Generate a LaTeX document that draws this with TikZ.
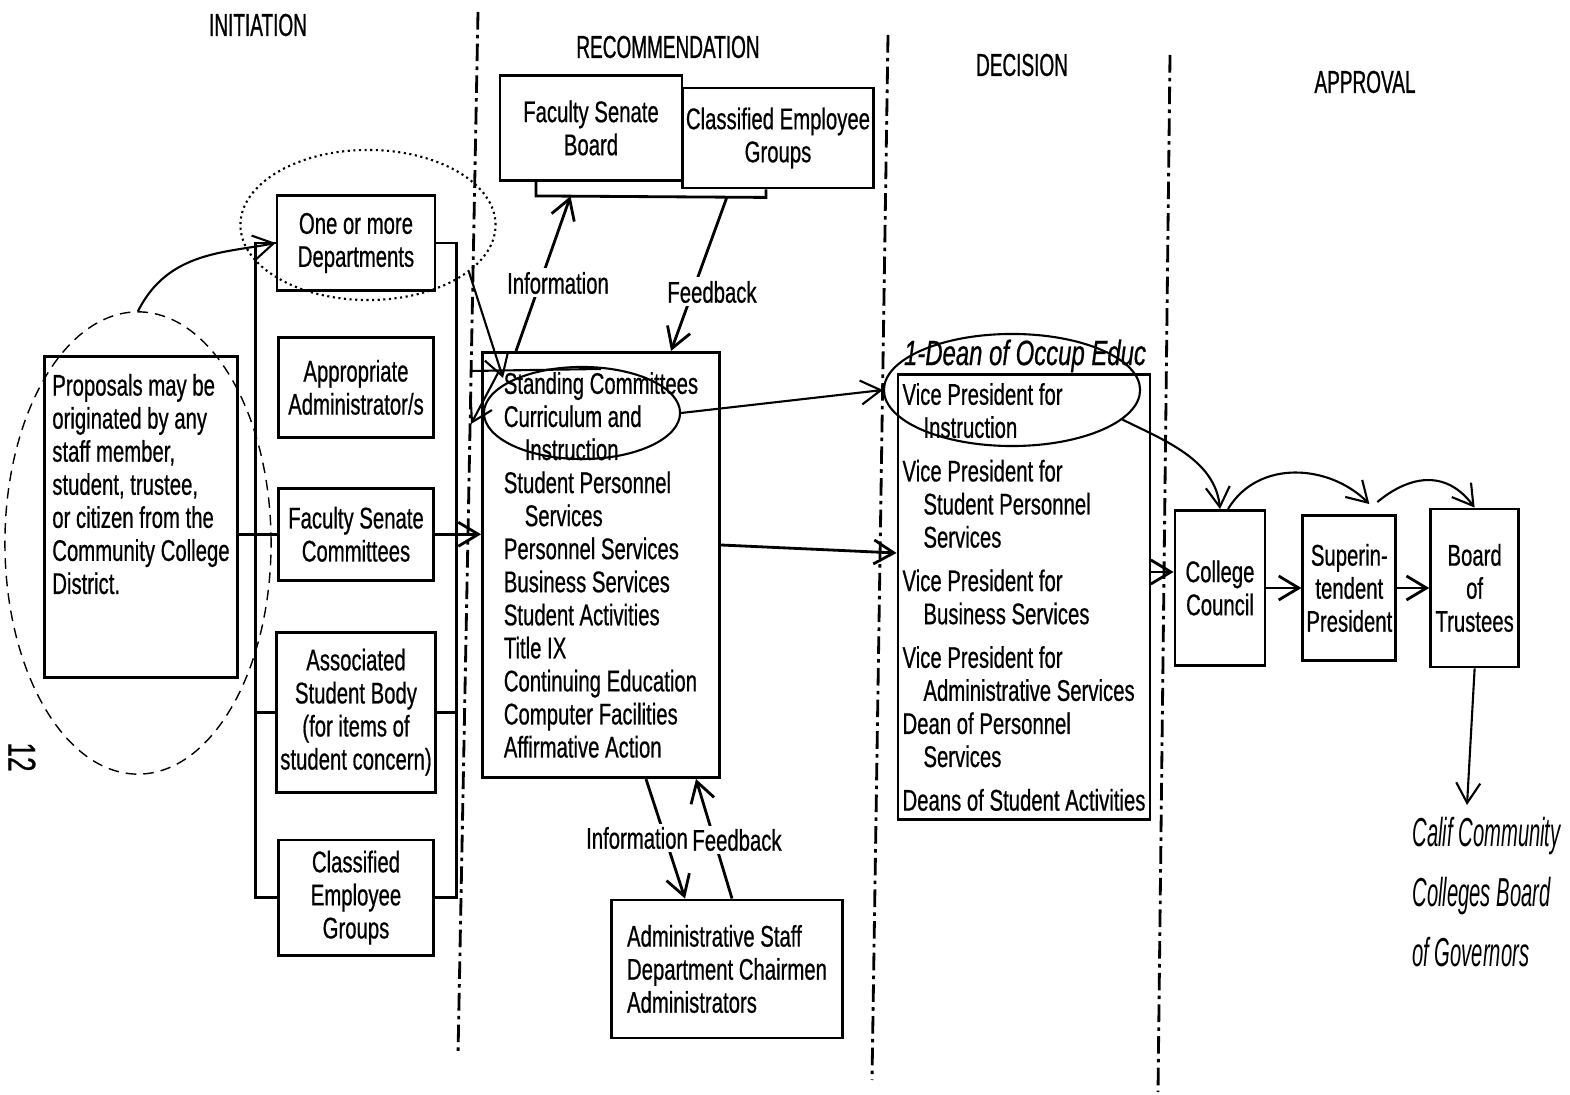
\documentclass[tikz,border=0pt]{standalone}
\usepackage{fontspec}
\setsansfont[FakeStretch=0.68, FakeBold=0.6]{Liberation Sans}
\newfontfamily\headfont[FakeStretch=0.6, FakeBold=0.8]{Liberation Sans}
\newfontfamily\handfont[FakeStretch=0.5]{Liberation Sans}
\usetikzlibrary{arrows.meta,positioning,shapes.geometric,calc}
\newcommand{\ind}{\hspace*{0.7em}}

\begin{document}
\begin{tikzpicture}[
  x=0.01cm, y=-0.01cm,
  font=\sffamily\fontsize{8.5}{9.4}\selectfont,
  box/.style={draw, thick, fill=white, align=center, inner sep=1pt},
  listbox/.style={box, align=left},
  arr/.style={-{Straight Barb[length=2mm,width=2.4mm]}, thick},
  harr/.style={-{Straight Barb[length=2mm,width=2.4mm]}, semithick},
  ring/.style={draw, ellipse, semithick, inner sep=0pt},
  phase/.style={font=\headfont\fontsize{9}{11}\selectfont},
  lbl/.style={fill=white, inner sep=1pt},
  divider/.style={thick, dash pattern=on 5pt off 1.5pt on 1pt off 1.5pt},
  hand/.style={font=\sffamily\itshape\fontsize{10}{12}\selectfont},
  govnote/.style={font=\handfont\itshape\fontsize{11.5}{17}\selectfont, align=left}
]
\useasboundingbox (0,0) rectangle (1570,1095);

% Phase headings
\node[phase] (hinit) at (258,25) {INITIATION};
\node[phase] (hrec) at (668,47) {RECOMMENDATION};
\node[phase] (hdec) at (1022,65) {DECISION};
\node[phase] (happ) at (1365,82) {APPROVAL};

% Dividers
\draw[divider] (478,12) -- (458,1055);
\draw[divider] (888,35) -- (872,1080);
\draw[divider] (1170,55) -- (1158,1092);

% Initiation
\node[listbox, minimum width=1.93cm, minimum height=3.21cm] (prop) at (141,517)
      {Proposals may be\\originated by any\\staff member,\\student, trustee,\\or citizen from the\\Community College\\District.\\~\\~};
\node[box, minimum width=1.58cm, minimum height=0.95cm] (dept) at (356,243) {One or more\\Departments};
\node[box, minimum width=1.55cm, minimum height=1.0cm, below=0.44cm of dept] (admin) {Appropriate\\Administrator/s};
\node[box, minimum width=1.55cm, minimum height=0.92cm, below=0.48cm of admin] (fsc) {Faculty Senate\\Committees};
\node[box, minimum width=1.55cm, minimum height=1.6cm, below=0.49cm of fsc] (asb) {Associated\\Student Body\\(for items of\\student concern)};
\node[box, minimum width=1.55cm, minimum height=1.15cm, below=0.45cm of asb] (ceg) {Classified\\Employee\\Groups};

\coordinate (frameL) at ($(dept.west)+(-20,0)$);
\coordinate (frameR) at ($(dept.east)+(20,0)$);
\draw[thick] (dept.west) -- (frameL) |- (ceg.west);
\draw[thick] (dept.east) -- (frameR) |- (ceg.east);
\draw[thick] (asb.west) -- (asb.west -| frameL);
\draw[thick] (asb.east) -- (asb.east -| frameR);
\draw[thick] (prop.east |- fsc.west) -- (fsc.west);

% Recommendation
\node[box, minimum width=1.82cm, minimum height=1.05cm] (fsb) at (591,128) {Faculty Senate\\Board};
\node[box, minimum width=1.82cm, minimum height=1.0cm] (cegr) at (778,138) {Classified Employee\\Groups};
\node[listbox, minimum width=2.37cm, minimum height=4.25cm] (std) at (601,565)
      {Standing Committees\\Curriculum and\\\ind Instruction\\Student Personnel\\\ind Services\\Personnel Services\\Business Services\\Student Activities\\Title IX\\Continuing Education\\Computer Facilities\\Affirmative Action};
\node[listbox, minimum width=2.31cm, minimum height=1.38cm] (admst) at (727,969)
      {Administrative Staff\\Department Chairmen\\Administrators};

\draw[arr] (fsc.east) -- (fsc.east -| std.west);

\coordinate (brkL) at ($(fsb.south)+(-55,14)$);
\coordinate (brkR) at ($(cegr.south)+(-12,8)$);
\draw[thick] (brkL |- fsb.south) -- (brkL) -- (brkR) -- (brkR |- cegr.south);
\coordinate (infoEnd) at ($(brkL)!0.15!(brkR)$);
\coordinate (feedStart) at ($(brkL)!0.83!(brkR)$);
\draw[arr] ($(std.north west)+(35,0)$) -- (infoEnd);
\draw[arr] (feedStart) -- ($(std.north west)+(190,0)$);
\node[lbl] (infolbl) at (558,283) {Information};
\node[lbl] (feedlbl) at (712,292) {Feedback};

\draw[arr] ($(std.south)+(45,0)$) -- ($(admst.north)+(-42,0)$);
\draw[arr] ($(admst.north)+(5,0)$) -- ($(std.south)+(95,0)$);
\node[lbl] (infolbl2) at (637,838) {Information};
\node[lbl] (feedlbl2) at (737,840) {Feedback};

% Decision
\node[listbox, minimum width=2.52cm, minimum height=4.45cm] (dec) at (1024,597)
      {Vice President for\\\ind Instruction\\[3pt]Vice President for\\\ind Student Personnel\\\ind Services\\[3pt]Vice President for\\\ind Business Services\\[3pt]Vice President for\\\ind Administrative Services\\Dean of Personnel\\\ind Services\\[3pt]Deans of Student Activities};
\draw[arr] ($(std.east)+(0,-20)$) -- ($(dec.west)+(0,-44)$);

% Approval
\node[box, minimum width=0.9cm, minimum height=1.55cm] (cc) at (1220,588) {College\\Council};
\node[box, minimum width=0.9cm, minimum height=1.45cm, right=0.35cm of cc] (sup) {Superin-\\tendent\\President};
\node[box, minimum width=0.88cm, minimum height=1.58cm, right=0.32cm of sup] (bot) {Board\\of\\Trustees};

\coordinate (decout) at ($(dec.east)+(0,-25)$);
\draw[arr] (decout) -- (decout -| cc.west);
\draw[arr] (cc.east) -- (sup.west);
\draw[arr] (sup.east) -- (bot.west);

% Page number
\node[rotate=-90, font=\sffamily\fontsize{11}{12}\selectfont] (pgno) at (22,757) {12};

% Hand-written marks
\node[ring, densely dashed, thin, minimum width=2.66cm, minimum height=4.62cm] (propring) at (138,543) {};
\node[ring, densely dotted, minimum width=2.55cm, minimum height=1.5cm] (deptring) at (368,225) {};
\node[ring, minimum width=1.96cm, minimum height=0.92cm] (ciring) at (582,413) {};
\node[ring, minimum width=2.56cm, minimum height=1.12cm] (vpring) at (1012,390) {};
\node[hand] (occup) at (1025,356) {1-Dean of Occup Educ};
\node[govnote, anchor=north west] (gov) at (1400,805) {Calif Community\\Colleges Board\\of Governors};

\draw[harr] (propring.north) .. controls +(30,-60) and +(-50,10) .. (dept.west);
\draw[harr] (deptring.-25) -- ($(std.north west)+(22,27)$);
\draw[harr] ($(std.north west)+(17,22)$) -- ($(std.north west)+(-10,73)$);
\draw[semithick] ($(std.north west)+(-10,20)$) -- ($(std.north west)+(120,18)$);
\draw[harr] (ciring.east) -- (vpring.west);
\draw[harr] (vpring.-15) .. controls +(40,20) and +(-5,-50) .. (cc.north);
\draw[harr] ($(cc.north)+(8,0)$) .. controls +(30,-50) and +(-40,-40) .. ($(sup.north)+(20,-10)$);
\draw[harr] ($(sup.north)+(28,-12)$) .. controls +(30,-25) and +(-30,-40) .. (bot.north);
\draw[harr] (bot.south) -- ($(gov.north west)+(67,0)$);

\end{tikzpicture}
\end{document}
